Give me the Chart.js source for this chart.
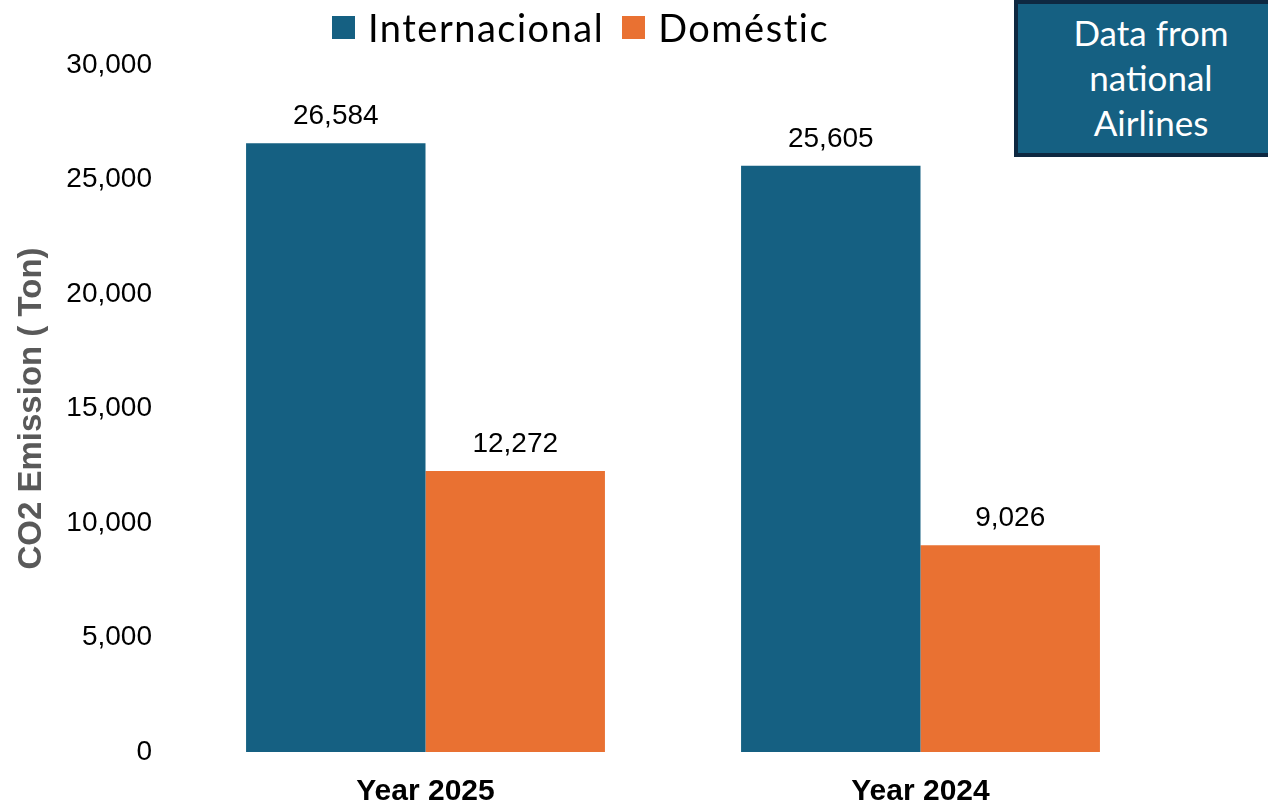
<!DOCTYPE html>
<html>
<head>
<meta charset="utf-8">
<script src="https://cdn.jsdelivr.net/npm/chart.js@4"></script>
<style>
  body { margin: 0; background: #fff; }
  #wrap { position: relative; width: 1268px; height: 808px; overflow: hidden; }
  #legend { position: absolute; top: 4px; left: 332px; display: flex; align-items: center;
            font-family: Lato, sans-serif; font-size: 38px; color: #000; letter-spacing: 1.5px; }
  #legend span.sq { display: inline-block; width: 23px; height: 23px; margin-right: 13px; }
  #legend span.item { display: flex; align-items: center; margin-right: 18px; }
  #note { position: absolute; left: 1014px; top: 0; width: 266px;
          background: #156082; border: 4px solid #0E2841; color: #fff;
          font-family: Lato, sans-serif; font-size: 35px; line-height: 45px;
          text-align: center; padding-top: 6px; height: 143px; }
</style>
</head>
<body>
<div id="wrap">
  <canvas id="chart" width="1268" height="808"></canvas>
  <div id="legend"></div>
  <div id="note">Data from<br>national<br>Airlines</div>
</div>
<script>
const categorias = ['Year 2025', 'Year 2024'];
const internacional = [26584, 25605];
const domestic = [12272, 9026];
const yTicks = [0, 5000, 10000, 15000, 20000, 25000, 30000];

const colores = ['#156082', '#E97132'];
const nomi = ['Internacional', 'Doméstic'];

// legenda html
function createLegend(){
    let box = document.getElementById('legend');
    for(let i = 0; i < nomi.length; i++){
        let item = document.createElement('span');
        item.className = 'item';
        item.innerHTML = '<span class="sq" style="background:' + colores[i] + '"></span>' + nomi[i];
        box.append(item);
    }
}

// etichette sopra le barre
const barLabels = {
    id: 'barLabels',
    afterDatasetsDraw(chart){
        const ctx = chart.ctx;
        ctx.save();
        ctx.font = '28px "Liberation Sans", Arial, sans-serif';
        ctx.fillStyle = '#000';
        ctx.textAlign = 'center';
        ctx.textBaseline = 'alphabetic';
        chart.data.datasets.forEach((ds, i) => {
            chart.getDatasetMeta(i).data.forEach((el, j) => {
                ctx.fillText(ds.data[j].toLocaleString('en-US'), el.x, el.y - 19);
            });
        });
        ctx.restore();
    }
};

function createChart(){
    const canvas = document.getElementById('chart');
    return new Chart(canvas, {
        type: 'bar',
        data: {
            labels: categorias,
            datasets: [
                { label: nomi[0], data: internacional, backgroundColor: colores[0] },
                { label: nomi[1], data: domestic, backgroundColor: colores[1] }
            ]
        },
        options: {
            responsive: false,
            animation: false,
            categoryPercentage: 0.725,
            barPercentage: 1,
            layout: { padding: { top: 65, right: 100, left: 0, bottom: 0 } },
            plugins: { legend: { display: false }, tooltip: { enabled: false } },
            scales: {
                x: {
                    grid: { display: false, drawTicks: false },
                    border: { display: false },
                    ticks: { color: '#000', padding: 22,
                             font: { family: '"Liberation Sans", Arial', size: 30, weight: 'bold' } },
                    afterFit: (s) => { s.height = 56; }
                },
                y: {
                    min: 0, max: 30000,
                    afterBuildTicks: (s) => { s.ticks = yTicks.map(v => ({ value: v })); },
                    grid: { display: false, drawTicks: false },
                    border: { display: false },
                    ticks: { color: '#000', padding: 26,
                             font: { family: '"Liberation Sans", Arial', size: 28 },
                             callback: (v) => v.toLocaleString('en-US') },
                    title: { display: true, text: 'CO2 Emission ( Ton)', color: '#595959',
                             padding: { top: 12, bottom: 0 },
                             font: { family: '"Liberation Sans", Arial', size: 33, weight: 'bold' } },
                    afterFit: (s) => { s.width = 178; }
                }
            }
        },
        plugins: [barLabels]
    });
}

createLegend();
createChart();
</script>
</body>
</html>
